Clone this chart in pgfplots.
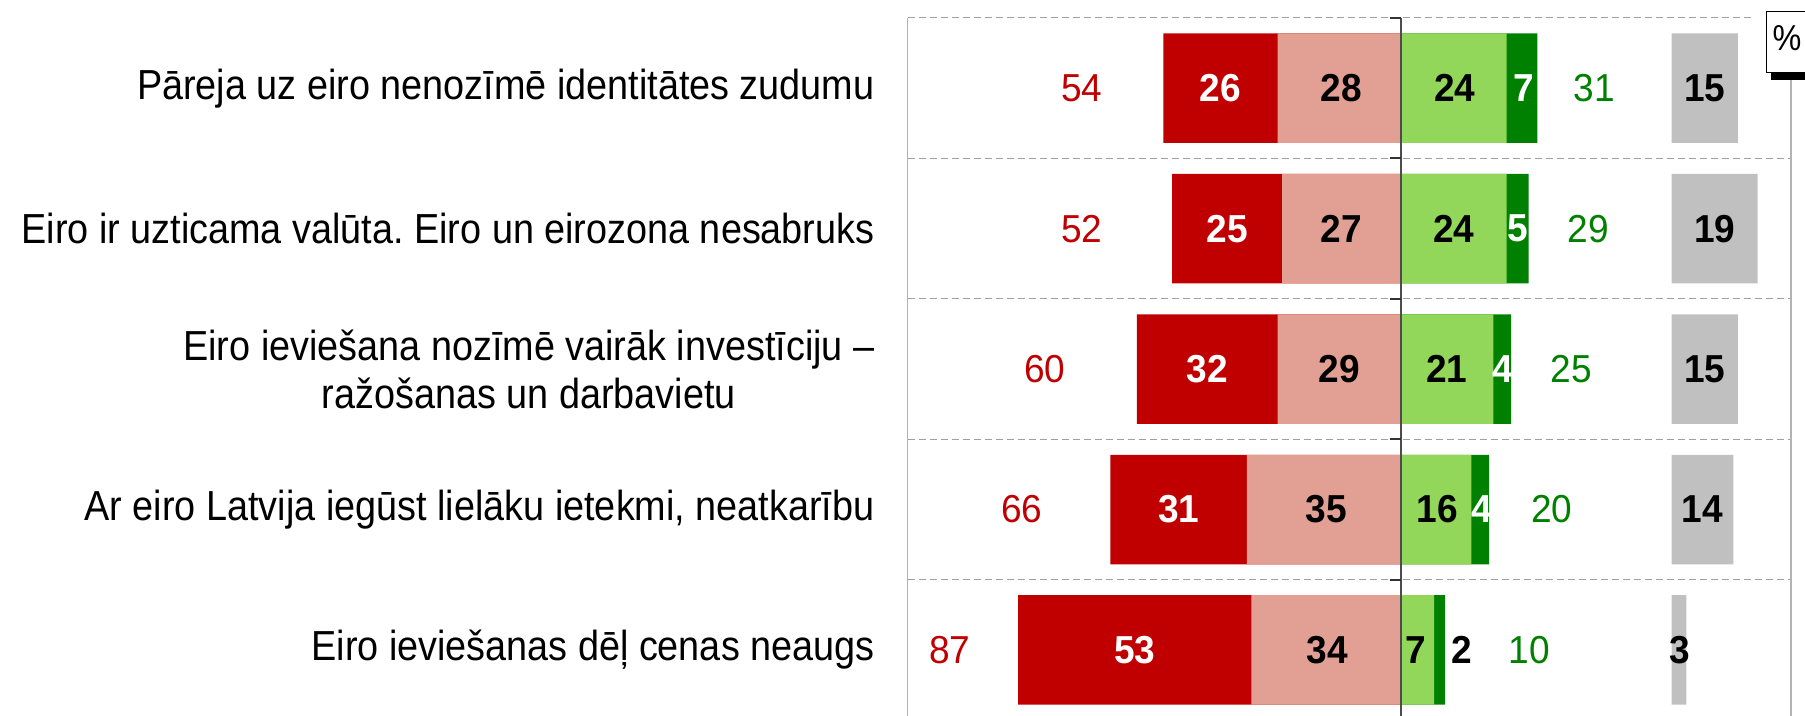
\documentclass[border=0pt]{standalone}
\usepackage{pgfplots}
\pgfplotsset{compat=1.18}
\usepackage{pgfplotstable}
\usepackage{fontspec}
\setmainfont{Liberation Sans}[FakeStretch=0.9]
\newfontfamily\numfont{Liberation Sans}[FakeStretch=0.95]
\frenchspacing

\definecolor{dred}{RGB}{192,0,0}
\definecolor{lred}{RGB}{226,160,148}
\definecolor{lgreen}{RGB}{146,214,90}
\definecolor{dgreen}{RGB}{0,128,0}
\definecolor{gbar}{RGB}{192,192,192}
\definecolor{gridc}{RGB}{160,160,160}

% row, dark red, light red, red total, light green, dark green, green total, grey
\pgfplotstableread{
row dr lr rt lg dg gt gr
1 26 28 54 24 7 31 15
2 25 27 52 24 5 29 19.5
3 32 28 60 21 4 25 15
4 31 35 66 16 4 20 14
5 53 34 87 7.5 2.5 10 3.3
}\data

\begin{document}
\begin{tikzpicture}
\pgfplotsset{
  base/.style={at={(0,0)}, anchor=south west, scale only axis,
    width=353.4pt, height=279.2pt, ymin=0.5, ymax=5.47, y dir=reverse,
    clip=false, axis line style={draw=none}, xtick=\empty},
  bars/.style={xbar, bar width=0.78, bar shift=0pt, draw=none},
  lbl/.style={sharp plot, draw=none, mark=none, nodes near coords,
    point meta=explicit symbolic,
    every node near coord/.append style={anchor=center, inner sep=0pt, font=\fontsize{15.6}{17}\numfont#1}},
}

% grey "no answer" bars, axis shifted so that 0 sits at 61.5 of the main axis
\begin{axis}[base, hide axis, xmin=-173.6, xmax=27.1]
  \addplot[bars, fill=gbar] table[x=gr, y=row]{\data};
  \addplot[lbl=\bfseries\color{black}] coordinates {(7.5,1)[15] (9.8,2)[19] (7.5,3)[15] (7,4)[14] (1.8,5)[3]};
\end{axis}

\begin{axis}[base, xmin=-112.1, xmax=88.6,
  ytick={1,2,3,4,5}, major tick length=0pt,
  yticklabels={{Pāreja uz eiro nenozīmē identitātes zudumu},
    {Eiro ir uzticama valūta. Eiro un eirozona nesabruks},
    {Eiro ieviešana nozīmē vairāk investīciju –\\ražošanas un darbavietu},
    {Ar eiro Latvija iegūst lielāku ietekmi, neatkarību},
    {Eiro ieviešanas dēļ cenas neaugs}},
  yticklabel style={align=center, inner sep=0pt, xshift=-13pt,
    font=\fontsize{16.8}{19.2}\selectfont},
]
  % grid
  \pgfplotsinvokeforeach{1.5,2.5,3.5,4.5}{
    \draw[gridc, line width=0.4pt, dash pattern=on 2.8pt off 1.6pt]
      (axis cs:-112.1,#1) -- (axis cs:88.6,#1);
  }
  \draw[gridc, line width=0.4pt, dash pattern=on 2.8pt off 1.6pt]
      (axis cs:-112.1,0.5) -- (axis cs:80,0.5);

  \addplot[bars, fill=dred] table[x expr=-\thisrow{rt}, y=row]{\data};
  \addplot[bars, fill=lred] table[x expr=-\thisrow{lr}, y=row]{\data};
  \addplot[bars, fill=dgreen] table[x=gt, y=row]{\data};
  \addplot[bars, fill=lgreen] table[x=lg, y=row]{\data};

  \addplot[lbl=\bfseries\color{white}] coordinates {(-41,1)[26] (-39.5,2)[25] (-44,3)[32] (-50.5,4)[31] (-60.5,5)[53]};
  \addplot[lbl=\bfseries\color{black}] coordinates {(-13.6,1)[28] (-13.5,2)[27] (-14,3)[29] (-17,4)[35] (-16.8,5)[34]};
  \addplot[lbl=\bfseries\color{black}] coordinates {(12.2,1)[24] (12,2)[24] (10.4,3)[21] (8.3,4)[16] (3.4,5)[7]};
  \addplot[lbl=\bfseries\color{white}] coordinates {(27.8,1)[7] (26.5,2)[5] (23.1,3)[4] (18.3,4)[4]};
  \addplot[lbl=\bfseries\color{black}] coordinates {(13.9,5)[2]};
  \addplot[lbl=\color{dred}] coordinates {(-72.5,1)[54] (-72.5,2)[52] (-80.9,3)[60] (-86.1,4)[66] (-102.5,5)[87]};
  \addplot[lbl=\color{dgreen}] coordinates {(43.9,1)[31] (42.6,2)[29] (38.7,3)[25] (34.3,4)[20] (29.1,5)[10]};

  % centre line and its small ticks
  \draw[black!70, line width=0.7pt] (axis cs:0,0.5) -- (axis cs:0,5.47);
  \pgfplotsinvokeforeach{0.5,1.5,2.5,3.5,4.5}{
    \draw[black!80, line width=0.8pt] (axis cs:0,#1) -- ([xshift=-4.5pt]axis cs:0,#1);
  }
\end{axis}

% frame
\draw[gridc!80, line width=0.5pt] (0,0) -- (0,279.2pt);
\draw[gridc!80, line width=0.5pt] (353.4pt,0) -- (353.4pt,254.4pt);
% percent box
\fill[black] (345.4pt,254.4pt) rectangle (365pt,257.6pt);
\node[draw=black, fill=white, line width=0.5pt, anchor=north west, minimum width=20pt,
  minimum height=24.4pt, inner sep=0pt] (pc) at (343.4pt,282pt) {};
\node[font=\fontsize{14.4}{16}\selectfont] at (351.8pt,271.2pt) {\%};

\pgfresetboundingbox
\path[use as bounding box] (-363.04pt,0pt) rectangle (359pt,286.4pt);
\end{tikzpicture}
\end{document}
